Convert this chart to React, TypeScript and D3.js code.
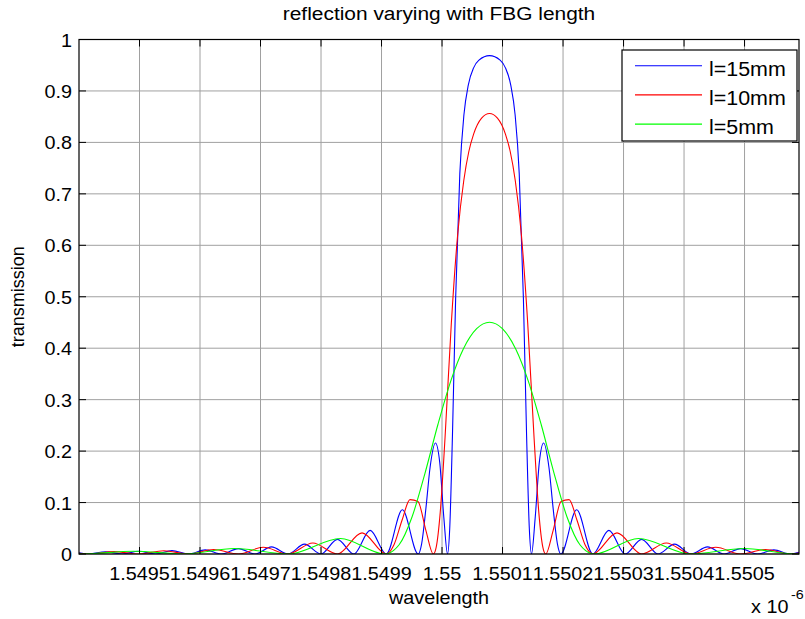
import React from 'react';
import * as d3 from 'd3';

// wavelength in nm (axis shows micrometres x 10^-6 scale labels)
const xTickValues = [1549.5, 1549.6, 1549.7, 1549.8, 1549.9, 1550.0, 1550.1, 1550.2, 1550.3, 1550.4, 1550.5];
const xTickLabels = ['1.5495', '1.5496', '1.5497', '1.5498', '1.5499', '1.55', '1.5501', '1.5502', '1.5503', '1.5504', '1.5505'];
const yTickValues = [0, 0.1, 0.2, 0.3, 0.4, 0.5, 0.6, 0.7, 0.8, 0.9, 1];
const yTickLabels = ['0', '0.1', '0.2', '0.3', '0.4', '0.5', '0.6', '0.7', '0.8', '0.9', '1'];

const seriesNames = ['l=15mm', 'l=10mm', 'l=5mm'];
const seriesColors = ['#0000ff', '#ff0000', '#00ff00'];

const len15: [number, number][] = [
  [1549.4000, 0.0025], [1549.4164, 0], [1549.4438, 0.0044], [1549.4713, 0], [1549.4987, 0.0053],
  [1549.5265, 0], [1549.5537, 0.0065], [1549.5810, 0], [1549.6086, 0.0081], [1549.6359, 0],
  [1549.6635, 0.0104], [1549.6908, 0], [1549.7182, 0.0138], [1549.7455, 0], [1549.7727, 0.0192],
  [1549.8000, 0], [1549.8271, 0.0284], [1549.8542, 0], [1549.8812, 0.046], [1549.9079, 0],
  [1549.9345, 0.086], [1549.9605, 0], [1549.9663, 0.0198], [1549.9734, 0.0891], [1549.9803, 0.1687],
  [1549.9891, 0.2158], [1549.9962, 0.178], [1550.0031, 0.0692], [1550.0091, 0], [1550.0127, 0.049],
  [1550.0172, 0.229], [1550.0225, 0.4964], [1550.0294, 0.7393], [1550.0362, 0.8536], [1550.0435, 0.912],
  [1550.0522, 0.9449], [1550.0610, 0.9598], [1550.0785, 0.9686], [1550.0960, 0.9598], [1550.1048, 0.9449],
  [1550.1135, 0.912], [1550.1208, 0.8536], [1550.1276, 0.7393], [1550.1345, 0.4964], [1550.1398, 0.229],
  [1550.1443, 0.049], [1550.1479, 0], [1550.1539, 0.0692], [1550.1608, 0.178], [1550.1679, 0.2158],
  [1550.1767, 0.1687], [1550.1836, 0.0891], [1550.1907, 0.0198], [1550.1965, 0], [1550.2225, 0.086],
  [1550.2491, 0], [1550.2758, 0.046], [1550.3028, 0], [1550.3299, 0.0284], [1550.3570, 0],
  [1550.3843, 0.0192], [1550.4115, 0], [1550.4388, 0.0138], [1550.4662, 0], [1550.4935, 0.0104],
  [1550.5211, 0], [1550.5484, 0.0081], [1550.5760, 0], [1550.5900, 0.0033],
];

const len10: [number, number][] = [
  [1549.4000, 0.0013], [1549.4167, 0], [1549.4579, 0.0047], [1549.4990, 0], [1549.5402, 0.0063],
  [1549.5813, 0], [1549.6225, 0.0088], [1549.6635, 0], [1549.7045, 0.013], [1549.7455, 0],
  [1549.7865, 0.0214], [1549.8271, 0], [1549.8678, 0.0411], [1549.9079, 0], [1549.9208, 0.0184],
  [1549.9339, 0.0656], [1549.9471, 0.1056], [1549.9602, 0.1019], [1549.9734, 0.0455], [1549.9856, 0],
  [1549.9904, 0.0135], [1549.9970, 0.0805], [1550.0050, 0.2264], [1550.0154, 0.449], [1550.0259, 0.6215],
  [1550.0359, 0.7254], [1550.0443, 0.7823], [1550.0522, 0.8162], [1550.0654, 0.8472], [1550.0785, 0.8562],
  [1550.0916, 0.8472], [1550.1048, 0.8162], [1550.1127, 0.7823], [1550.1211, 0.7254], [1550.1311, 0.6215],
  [1550.1416, 0.449], [1550.1521, 0.2264], [1550.1600, 0.0805], [1550.1666, 0.0135], [1550.1714, 0],
  [1550.1836, 0.0455], [1550.1968, 0.1019], [1550.2099, 0.1056], [1550.2231, 0.0656], [1550.2362, 0.0184],
  [1550.2491, 0], [1550.2892, 0.0411], [1550.3299, 0], [1550.3706, 0.0214], [1550.4115, 0],
  [1550.4525, 0.013], [1550.4935, 0], [1550.5345, 0.0088], [1550.5757, 0], [1550.5900, 0.0017],
];

const len5: [number, number][] = [
  [1549.4000, 0.0002], [1549.4063, 0], [1549.4901, 0.0054], [1549.5734, 0], [1549.6570, 0.0106],
  [1549.7463, 0], [1549.8322, 0.030], [1549.9053, 0], [1549.9291, 0.018], [1549.9504, 0.0719],
  [1549.9717, 0.1563], [1549.9931, 0.2512], [1550.0144, 0.3361], [1550.0350, 0.398], [1550.0572, 0.4379],
  [1550.0785, 0.4505], [1550.0998, 0.4379], [1550.1220, 0.398], [1550.1426, 0.3361], [1550.1640, 0.2512],
  [1550.1853, 0.1563], [1550.2066, 0.0719], [1550.2279, 0.018], [1550.2517, 0], [1550.3248, 0.030],
  [1550.4107, 0], [1550.5000, 0.0106], [1550.5836, 0], [1550.5900, 0.0002],
];

const seriesData = [len15, len10, len5];

const FONT = '"Liberation Sans", Arial, Helvetica, sans-serif';
const SX = 1.1;

function Txt(props: { x: number; y: number; size: number; anchor?: string; children: React.ReactNode }) {
  const { x, y, size, anchor = 'middle', children } = props;
  return (
    <text
      transform={`translate(${x},${y}) scale(${SX},1)`}
      fontSize={size}
      fontFamily={FONT}
      textAnchor={anchor as any}
      fill="#000"
    >
      {children}
    </text>
  );
}

export default function App() {
  const L = 79, R = 799, T = 39.5, B = 554;
  const x = d3.scaleLinear().domain([1549.4, 1550.59]).range([L, R]);
  const y = d3.scaleLinear().domain([0, 1]).range([B, T]);
  const line = d3
    .line<[number, number]>()
    .x((d) => x(d[0]))
    .y((d) => y(d[1]))
    .curve(d3.curveMonotoneX);
  const tick = 7;
  const gridColor = '#a0a0a0';

  return (
    <svg
      width={805}
      height={619}
      style={{ position: 'absolute', left: 0, top: 0, display: 'block', background: '#fff' }}
    >
      <rect x={0} y={0} width={805} height={619} fill="#fff" />
      <defs>
        <clipPath id="plotClip">
          <rect x={L} y={T} width={R - L} height={B - T} />
        </clipPath>
      </defs>
      {/* grid */}
      <g stroke={gridColor} strokeWidth={1}>
        {xTickValues.map((v, i) => (
          <line key={'gx' + i} x1={x(v)} x2={x(v)} y1={T} y2={B} />
        ))}
        {yTickValues.map((v, i) => (
          <line key={'gy' + i} x1={L} x2={R} y1={y(v)} y2={y(v)} />
        ))}
      </g>
      {/* curves */}
      <g clipPath="url(#plotClip)" fill="none" strokeWidth={1.1}>
        {seriesData.map((s, i) => (
          <path key={'s' + i} d={line(s) || ''} stroke={seriesColors[i]} />
        ))}
      </g>
      {/* frame */}
      <rect x={L} y={T} width={R - L} height={B - T} fill="none" stroke="#000" strokeWidth={1.2} />
      {/* ticks */}
      <g stroke="#000" strokeWidth={1}>
        {xTickValues.map((v, i) => (
          <g key={'tx' + i}>
            <line x1={x(v)} x2={x(v)} y1={B} y2={B - tick} />
            <line x1={x(v)} x2={x(v)} y1={T} y2={T + tick} />
          </g>
        ))}
        {yTickValues.map((v, i) => (
          <g key={'ty' + i}>
            <line x1={L} x2={L + tick} y1={y(v)} y2={y(v)} />
            <line x1={R} x2={R - tick} y1={y(v)} y2={y(v)} />
          </g>
        ))}
      </g>
      {/* tick labels */}
      {xTickValues.map((v, i) => (
        <Txt key={'lx' + i} x={x(v)} y={579.5} size={18}>
          {xTickLabels[i]}
        </Txt>
      ))}
      {yTickValues.map((v, i) => (
        <Txt key={'ly' + i} x={72} y={y(v) + 7} size={18} anchor="end">
          {yTickLabels[i]}
        </Txt>
      ))}
      {/* labels */}
      <Txt x={(L + R) / 2} y={20} size={19}>reflection varying with FBG length</Txt>
      <Txt x={(L + R) / 2} y={604} size={18}>wavelength</Txt>
      <text
        transform={`translate(24,${(T + B) / 2}) rotate(-90)`}
        fontSize={18}
        fontFamily={FONT}
        textAnchor="middle"
        fill="#000"
      >
        transmission
      </text>
      <Txt x={751} y={613} size={18} anchor="start">x 10</Txt>
      <Txt x={791} y={599} size={13} anchor="start">-6</Txt>
      {/* legend */}
      <rect x={622} y={50} width={175} height={91} fill="#fff" stroke="#000" strokeWidth={1.2} />
      {seriesNames.map((n, i) => {
        const ly = 65.7 + i * 29.2;
        return (
          <g key={'lg' + i}>
            <line x1={635} x2={702} y1={ly} y2={ly} stroke={seriesColors[i]} strokeWidth={1.1} />
            <Txt x={709} y={ly + 10} size={19.5} anchor="start">
              {n}
            </Txt>
          </g>
        );
      })}
    </svg>
  );
}
